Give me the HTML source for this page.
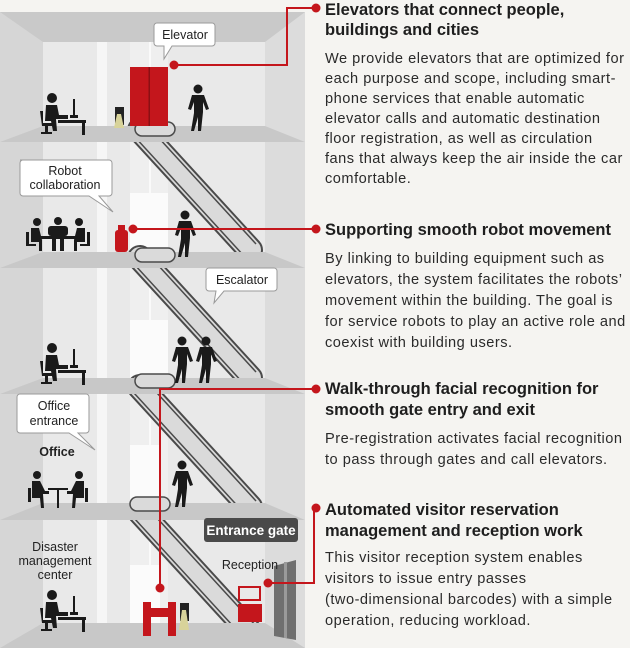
<!DOCTYPE html>
<html><head><meta charset="utf-8"><style>
html,body{margin:0;padding:0;background:#f5f4f1;}
svg{display:block;font-family:"Liberation Sans",Arial,sans-serif;}
</style></head><body>
<svg width="630" height="648" viewBox="0 0 630 648" xmlns="http://www.w3.org/2000/svg">
<defs>
  <g id="desk">
    <circle cx="12" cy="5" r="5" fill="#1a1a1a"/>
    <path d="M6 12 h11 l2 10 h9 v4 h-12 l1 12 h-4 l-2 -10 h-6 z" fill="#1a1a1a"/>
    <path d="M0 18 h3 v12 h9 v3 h-4 v6 h4 v2 h-11 v-2 h4 v-6 h-3 z" fill="#1a1a1a"/>
    <rect x="18" y="27" width="28" height="3" fill="#1a1a1a"/>
    <rect x="42" y="30" width="3" height="12" fill="#1a1a1a"/>
    <rect x="33" y="6" width="2" height="18" fill="#1a1a1a"/>
    <rect x="30" y="22" width="8" height="3" fill="#1a1a1a"/>
  </g>
  <g id="walker">
    <circle cx="10" cy="5" r="4.5" fill="#1a1a1a"/>
    <path d="M4 11 h12 l5 14 l-3 1 l-3 -8 v10 l-2 19 h-3 l0 -14 l-4 14 h-3 l3 -18 v-11 l-3 8 l-3 -1 z" fill="#1a1a1a"/>
  </g>
  <g id="esc">
    <path d="M0 0 L110 120" stroke="#4a4a4a" stroke-width="26" stroke-linecap="round"/>
    <path d="M0 0 L110 120" stroke="#dadada" stroke-width="22" stroke-linecap="round"/>
    <path d="M-6 6 L104 126" stroke="#4a4a4a" stroke-width="1.5"/>
    <path d="M6 -6 L116 114" stroke="#4a4a4a" stroke-width="1.5"/>
  </g>
</defs>
<rect width="630" height="648" fill="#f5f4f1"/>
<rect x="0" y="12" width="305" height="636" fill="#e9e9e9"/>
<rect x="0" y="12" width="43" height="636" fill="#d6d6d6"/>
<rect x="265" y="12" width="40" height="636" fill="#dcdcdc"/>
<polygon points="0,12 305,12 265,42 43,42" fill="#c9c9c9"/>
<rect x="97" y="42" width="10" height="606" fill="#f6f6f6"/>
<rect x="130" y="42" width="38" height="606" fill="#efefef"/>
<rect x="149" y="42" width="2" height="606" fill="#fafafa"/>
<rect x="130" y="193" width="38" height="60" fill="#fbfbfb"/>
<rect x="130" y="320" width="38" height="60" fill="#fbfbfb"/>
<rect x="130" y="445" width="30" height="60" fill="#fbfbfb"/>
<rect x="130" y="565" width="30" height="60" fill="#fbfbfb"/>
<use href="#esc" x="140" y="130"/>
<use href="#esc" x="140" y="258"/>
<use href="#esc" x="140" y="387"/>
<use href="#esc" x="140" y="512"/>
<polygon points="43,126 265,126 305,142 0,142" fill="#c8c8c8"/>
<polygon points="43,252 265,252 305,268 0,268" fill="#c8c8c8"/>
<polygon points="43,378 265,378 305,394 0,394" fill="#c8c8c8"/>
<polygon points="43,503 265,503 305,520 0,520" fill="#c8c8c8"/>
<polygon points="43,623 265,623 305,648 0,648" fill="#c8c8c8"/>
<g fill="#dadada" stroke="#4a4a4a" stroke-width="1.5">
<rect x="135" y="122" width="40" height="14" rx="7"/>
<rect x="135" y="248" width="40" height="14" rx="7"/>
<rect x="135" y="374" width="40" height="14" rx="7"/>
<rect x="130" y="497" width="40" height="14" rx="7"/>
</g>
<rect x="130" y="67" width="38" height="59" fill="#c4161c"/>
<rect x="148.5" y="67" width="1.5" height="59" fill="#8c0f13"/>
<rect x="115" y="107" width="9" height="18" fill="#222"/>
<polygon points="117,114 121,114 124,128 114,128" fill="#d8d39a"/>
<rect x="115" y="230" width="13" height="22" rx="3" fill="#c4161c"/>
<rect x="118" y="225" width="7" height="6" fill="#c4161c"/>
<rect x="143" y="602" width="8" height="34" fill="#c4161c"/>
<rect x="168" y="602" width="8" height="34" fill="#c4161c"/>
<rect x="150" y="608" width="19" height="9" fill="#c4161c"/>
<rect x="180" y="603" width="9" height="18" fill="#222"/>
<polygon points="182,610 186,610 189,630 179,630" fill="#d8d39a"/>
<rect x="239" y="587" width="21" height="13" fill="none" stroke="#c4161c" stroke-width="2"/>
<rect x="238" y="604" width="24" height="18" fill="#c4161c"/>
<polygon points="274,566 296,560 296,640 274,636" fill="#6f6f6f"/>
<rect x="284" y="562" width="3" height="76" fill="#9a9a9a"/>
<use href="#desk" x="40" y="93"/>
<use href="#desk" x="40" y="343"/>
<use href="#desk" x="40" y="590"/>
<use href="#walker" x="188" y="84"/>
<use href="#walker" x="175" y="210"/>
<use href="#walker" x="172" y="460"/>
<use href="#walker" x="172" y="336"/>
<use href="#walker" x="196" y="336"/>
<g fill="#1a1a1a">
<circle cx="37" cy="222" r="4"/><circle cx="58" cy="221" r="4"/><circle cx="79" cy="222" r="4"/>
<rect x="48" y="226" width="20" height="10" rx="3"/>
<rect x="40" y="236" width="36" height="3"/>
<rect x="52" y="239" width="4" height="12"/><rect x="60" y="239" width="4" height="12"/>
<path d="M31 228 h8 l3 12 v11 h-3 v-9 h-8 z"/>
<path d="M85 228 h-8 l-3 12 v11 h3 v-9 h8 z"/>
<rect x="26" y="232" width="3" height="14"/><rect x="87" y="232" width="3" height="14"/>
<rect x="26" y="244" width="10" height="2"/><rect x="80" y="244" width="10" height="2"/>
<circle cx="37" cy="475" r="4"/><circle cx="79" cy="475" r="4"/>
<path d="M32 481 h8 l5 10 h4 v3 h-6 l1 14 h-3 l-1 -10 h-8 z"/>
<path d="M84 481 h-8 l-5 10 h-4 v3 h6 l-1 14 h3 l1 -10 h8 z"/>
<rect x="48" y="488" width="20" height="2"/><rect x="57" y="490" width="2" height="18"/>
<rect x="28" y="488" width="3" height="14"/><rect x="85" y="488" width="3" height="14"/>
</g>
<g fill="#fff" stroke="#9a9a9a" stroke-width="1">
<path d="M157 23 h55 a3 3 0 0 1 3 3 v17 a3 3 0 0 1 -3 3 h-40 l-8 13 l0 -13 h-7 a3 3 0 0 1 -3 -3 v-17 a3 3 0 0 1 3 -3 z"/>
<path d="M20 160 h89 a3 3 0 0 1 3 3 v30 a3 3 0 0 1 -3 3 h-10 l14 16 l-24 -16 h-66 a3 3 0 0 1 -3 -3 v-30 a3 3 0 0 1 3 -3 z"/>
<path d="M209 268 h65 a3 3 0 0 1 3 3 v17 a3 3 0 0 1 -3 3 h-50 l-10 12 l2 -12 h-7 a3 3 0 0 1 -3 -3 v-17 a3 3 0 0 1 3 -3 z"/>
<path d="M20 394 h66 a3 3 0 0 1 3 3 v33 a3 3 0 0 1 -3 3 h-8 l17 17 l-26 -17 h-49 a3 3 0 0 1 -3 -3 v-33 a3 3 0 0 1 3 -3 z"/>
</g>
<rect x="204" y="518" width="94" height="24" rx="3" fill="#4a4a4a"/>
<g font-size="12.5" fill="#222" text-anchor="middle">
<text x="185" y="39">Elevator</text>
<text x="65" y="175">Robot</text>
<text x="65" y="189">collaboration</text>
<text x="242" y="284">Escalator</text>
<text x="54" y="410">Office</text>
<text x="54" y="425">entrance</text>
<text x="57" y="456" font-weight="bold">Office</text>
<text x="55" y="551">Disaster</text>
<text x="55" y="565">management</text>
<text x="55" y="579">center</text>
<text x="250" y="569">Reception</text>
<text x="251" y="535" fill="#fff" font-size="13.5" font-weight="bold">Entrance gate</text>
</g>
<g stroke="#c4161c" stroke-width="2" fill="none">
<path d="M174 65 H287 V8 H316"/>
<path d="M133 229 H316"/>
<path d="M160 588 V389 H316"/>
<path d="M268 583 H314 V508"/>
</g>
<g fill="#c4161c">
<circle cx="174" cy="65" r="4.5"/><circle cx="133" cy="229" r="4.5"/>
<circle cx="160" cy="588" r="4.5"/><circle cx="268" cy="583" r="4.5"/>
<circle cx="316" cy="8" r="4.5"/><circle cx="316" cy="229" r="4.5"/>
<circle cx="316" cy="389" r="4.5"/><circle cx="316" cy="508" r="4.5"/>
</g>
<g fill="#1e1e1e" font-size="16.5" font-weight="bold">
<text x="325" y="15">Elevators that connect people,</text>
<text x="325" y="35">buildings and cities</text>
<text x="325" y="235">Supporting smooth robot movement</text>
<text x="325" y="394">Walk-through facial recognition for</text>
<text x="325" y="415">smooth gate entry and exit</text>
<text x="325" y="515">Automated visitor reservation</text>
<text x="325" y="536">management and reception work</text>
</g>
<g fill="#2a2a2a" font-size="14.6" letter-spacing="0.5">
<text x="325" y="63">We provide elevators that are optimized for</text>
<text x="325" y="83">each purpose and scope, including smart-</text>
<text x="325" y="103">phone services that enable automatic</text>
<text x="325" y="123">elevator calls and automatic destination</text>
<text x="325" y="143">floor registration, as well as circulation</text>
<text x="325" y="163">fans that always keep the air inside the car</text>
<text x="325" y="183">comfortable.</text>
<text x="325" y="263">By linking to building equipment such as</text>
<text x="325" y="284">elevators, the system facilitates the robots’</text>
<text x="325" y="305">movement within the building. The goal is</text>
<text x="325" y="326">for service robots to play an active role and</text>
<text x="325" y="347">coexist with building users.</text>
<text x="325" y="443">Pre-registration activates facial recognition</text>
<text x="325" y="464">to pass through gates and call elevators.</text>
<text x="325" y="562">This visitor reception system enables</text>
<text x="325" y="583">visitors to issue entry passes</text>
<text x="325" y="604">(two-dimensional barcodes) with a simple</text>
<text x="325" y="625">operation, reducing workload.</text>
</g>
</svg>
</body></html>
